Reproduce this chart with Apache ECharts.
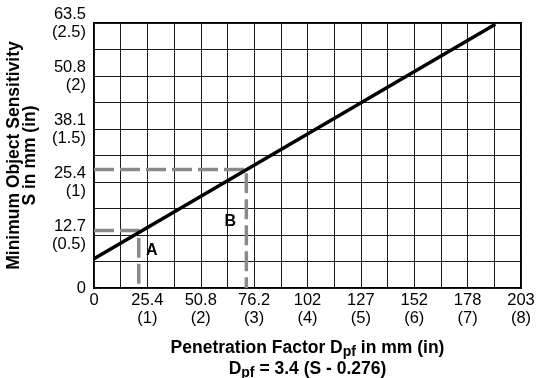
<!DOCTYPE html>
<html>
<head>
<meta charset="utf-8">
<script src="https://cdn.jsdelivr.net/npm/echarts@6/dist/echarts.min.js"></script>
<style>
  html, body { margin: 0; padding: 0; background: #fff; }
  #chart { width: 537px; height: 378px; }
</style>
</head>
<body>
<div id="chart"></div>
<script>
// Penetration factor (mm) vs minimum object sensitivity (mm)
const xTickMM = ['0', '25.4', '50.8', '76.2', '102', '127', '152', '178', '203'];
const xTickIn = ['', '(1)', '(2)', '(3)', '(4)', '(5)', '(6)', '(7)', '(8)'];
const yTickMM = ['0', '12.7', '25.4', '38.1', '50.8', '63.5'];
const yTickIn = ['', '(0.5)', '(1)', '(1.5)', '(2)', '(2.5)'];

// D_pf = 3.4 (S - 0.276) line, end points [D mm, S mm]
const lineD = [0, 191];
const lineS = [7.0, 63.2];

// worked examples A and B: [D mm, S mm]
const pointNames = ['A', 'B'];
const pointD = [21.3, 72.5];
const pointS = [13.8, 28.4];

const STEP = 12.7;
const FONT = '"Liberation Sans", Arial, Helvetica, sans-serif';

function guide(i) {
  return {
    type: 'line',
    data: [[0, pointS[i]], [pointD[i], pointS[i]], [pointD[i], 0]],
    symbol: 'none',
    silent: true,
    z: 3,
    lineStyle: { color: '#8a8a8a', width: 3.5, type: [20, 6] }
  };
}

const chart = echarts.init(document.getElementById('chart'));
chart.setOption({
  animation: false,
  backgroundColor: '#fff',
  textStyle: { fontFamily: FONT },
  grid: {
    left: 94, right: 16, top: 23, bottom: 90,
    containLabel: false, outerBoundsMode: 'none',
    show: true, borderColor: '#000', borderWidth: 2
  },
  xAxis: {
    type: 'value', min: 0, max: 16 * STEP, interval: STEP,
    axisLine: { show: false }, axisTick: { show: false },
    splitLine: { show: true, lineStyle: { color: '#1a1a1a', width: 1 } },
    axisLabel: {
      margin: 4, fontSize: 16.5, color: '#000', lineHeight: 17.5, fontFamily: FONT,
      showMaxLabel: true,
      formatter: function (v) {
        const k = Math.round(v / STEP);
        if (k % 2) return '';
        const i = k / 2;
        return xTickMM[i] + '\n' + (xTickIn[i] || ' ');
      }
    },
    name: '{b|Penetration Factor D}{s|pf}{b| in mm (in)}\n{b|D}{s|pf}{b| = 3.4 (S - 0.276)}',
    nameLocation: 'middle', nameGap: 50,
    nameTextStyle: {
      rich: {
        b: { fontSize: 17.5, fontWeight: 'bold', lineHeight: 21, color: '#000', fontFamily: FONT },
        s: { fontSize: 14, fontWeight: 'bold', lineHeight: 13, verticalAlign: 'bottom', color: '#000', fontFamily: FONT }
      }
    }
  },
  yAxis: {
    type: 'value', min: 0, max: 10 * STEP / 2, interval: STEP / 2,
    axisLine: { show: false }, axisTick: { show: false },
    splitLine: { show: true, lineStyle: { color: '#1a1a1a', width: 1 } },
    axisLabel: {
      margin: 8, fontSize: 16.5, color: '#000', lineHeight: 18, fontFamily: FONT,
      showMaxLabel: true,
      formatter: function (v) {
        const k = Math.round(v / (STEP / 2));
        if (k % 2) return '';
        const i = k / 2;
        return yTickIn[i] ? yTickMM[i] + '\n' + yTickIn[i] : yTickMM[i];
      }
    },
    name: 'Minimum Object Sensitivity\nS in mm (in)',
    nameLocation: 'middle', nameRotate: 90, nameGap: 56,
    nameTextStyle: { fontSize: 17.5, fontWeight: 'bold', lineHeight: 16, color: '#000', fontFamily: FONT }
  },
  series: [
    guide(0),
    guide(1),
    {
      type: 'line',
      data: [[lineD[0], lineS[0]], [lineD[1], lineS[1]]],
      symbol: 'none', silent: true, z: 4,
      lineStyle: { color: '#000', width: 3.5 }
    }
  ]
});

// point letters, placed next to each example's corner (pixel offsets)
const letterOffsets = [[13, 20], [-16, 52]];
chart.setOption({
  graphic: pointNames.map(function (name, i) {
    const p = chart.convertToPixel({ gridIndex: 0 }, [pointD[i], pointS[i]]);
    return {
      type: 'text', z: 10, silent: true,
      x: p[0] + letterOffsets[i][0], y: p[1] + letterOffsets[i][1],
      style: {
        text: name, fill: '#000', align: 'center', verticalAlign: 'middle',
        fontSize: 16, fontWeight: 'bold', fontFamily: FONT
      }
    };
  })
});
</script>
</body>
</html>
